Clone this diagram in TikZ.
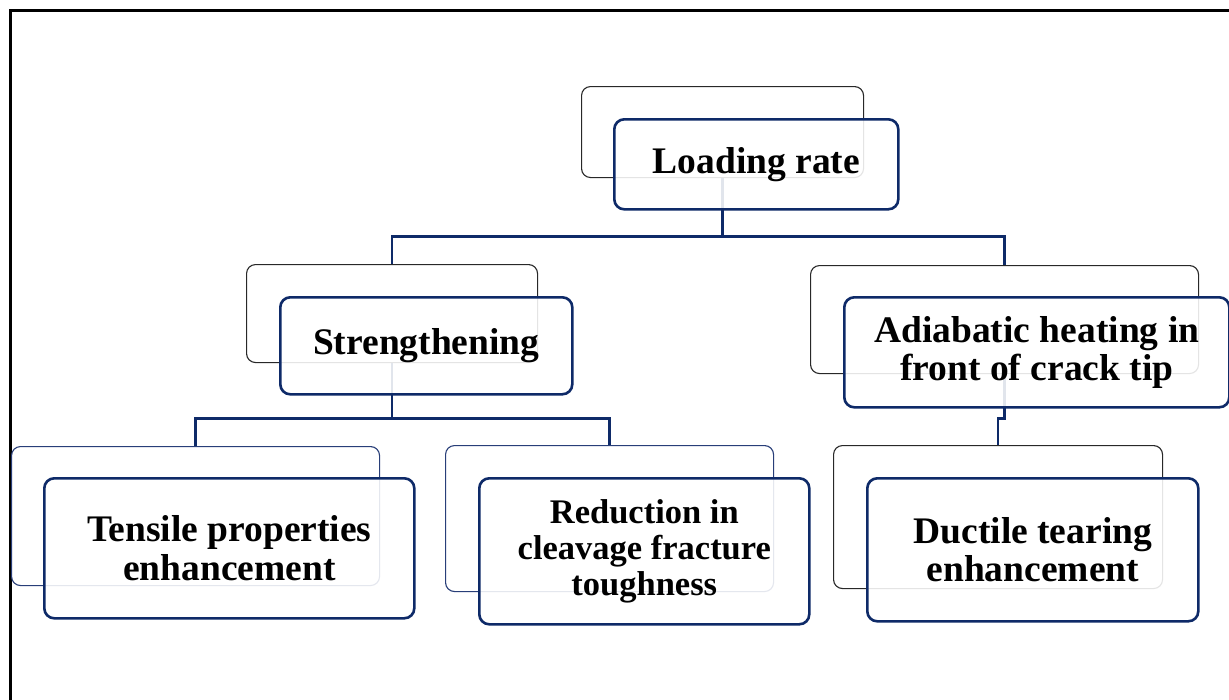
\documentclass[tikz,border=0pt]{standalone}
\usepackage{fontspec}
\setmainfont{Liberation Serif}
\definecolor{navy}{RGB}{14,42,104}
\definecolor{backgray}{RGB}{40,40,40}
\definecolor{backnavy}{RGB}{40,62,120}
\begin{document}
\begin{tikzpicture}[x=1pt,y=-1pt,
  backbox/.style={draw=backgray, line width=1.1pt, rounded corners=9pt, fill=white, anchor=north west, inner sep=0pt},
  frontbox/.style={draw=navy, line width=2.6pt, rounded corners=10pt, fill=white, fill opacity=0.88, text opacity=1, anchor=north west, inner sep=0pt, align=center, font=\bfseries\fontsize{37.5}{38.5}\selectfont},
  conn/.style={draw=navy, line width=2.8pt}]
\useasboundingbox (0,0) rectangle (1229,699);
\fill[white] (0,0) rectangle (1229,699);
% frame
\draw[line width=3pt, black] (10,700) -- (10,10) -- (1230,10);
% back boxes
\node[backbox, minimum width=282pt, minimum height=91pt] (b1) at (581,86) {};
\node[backbox, minimum width=291pt, minimum height=98pt] (b2) at (246,264) {};
\node[backbox, minimum width=388pt, minimum height=108pt] (b3) at (810,265) {};
\node[backbox, draw=backnavy, minimum width=368pt, minimum height=139pt] (b4) at (11,446) {};
\node[backbox, draw=backnavy, minimum width=328pt, minimum height=146pt] (b5) at (445,445) {};
\node[backbox, minimum width=329pt, minimum height=143pt] (b6) at (833,445) {};
% connectors
\draw[conn] (b1.south) -- ++(0,58) -| (b2.north);
\draw[conn] (b1.south) -- ++(0,58) -| (b3.north);
\draw[conn] (b2.south) -- ++(0,55) -| (b4.north);
\draw[conn] (b2.south) -- ++(0,55) -| (b5.north);
\draw[conn] (b3.south) -- ++(0,44) -| (b6.north);
% front boxes
\node[frontbox, minimum width=284pt, minimum height=90pt] (f1) at (613,118) {Loading rate};
\node[frontbox, minimum width=292pt, minimum height=97pt] (f2) at (279,296) {Strengthening};
\node[frontbox, minimum width=385pt, minimum height=110pt] (f3) at (843,296) {Adiabatic heating in\\front of crack tip};
\node[frontbox, minimum width=370pt, minimum height=140pt] (f4) at (43,477) {Tensile properties\\enhancement};
\node[frontbox, minimum width=330pt, minimum height=146pt, font=\bfseries\fontsize{34.5}{36}\selectfont] (f5) at (478,477) {Reduction in\\cleavage fracture\\toughness};
\node[frontbox, minimum width=331pt, minimum height=143pt] (f6) at (866,477) {Ductile tearing\\enhancement};
\end{tikzpicture}
\end{document}
